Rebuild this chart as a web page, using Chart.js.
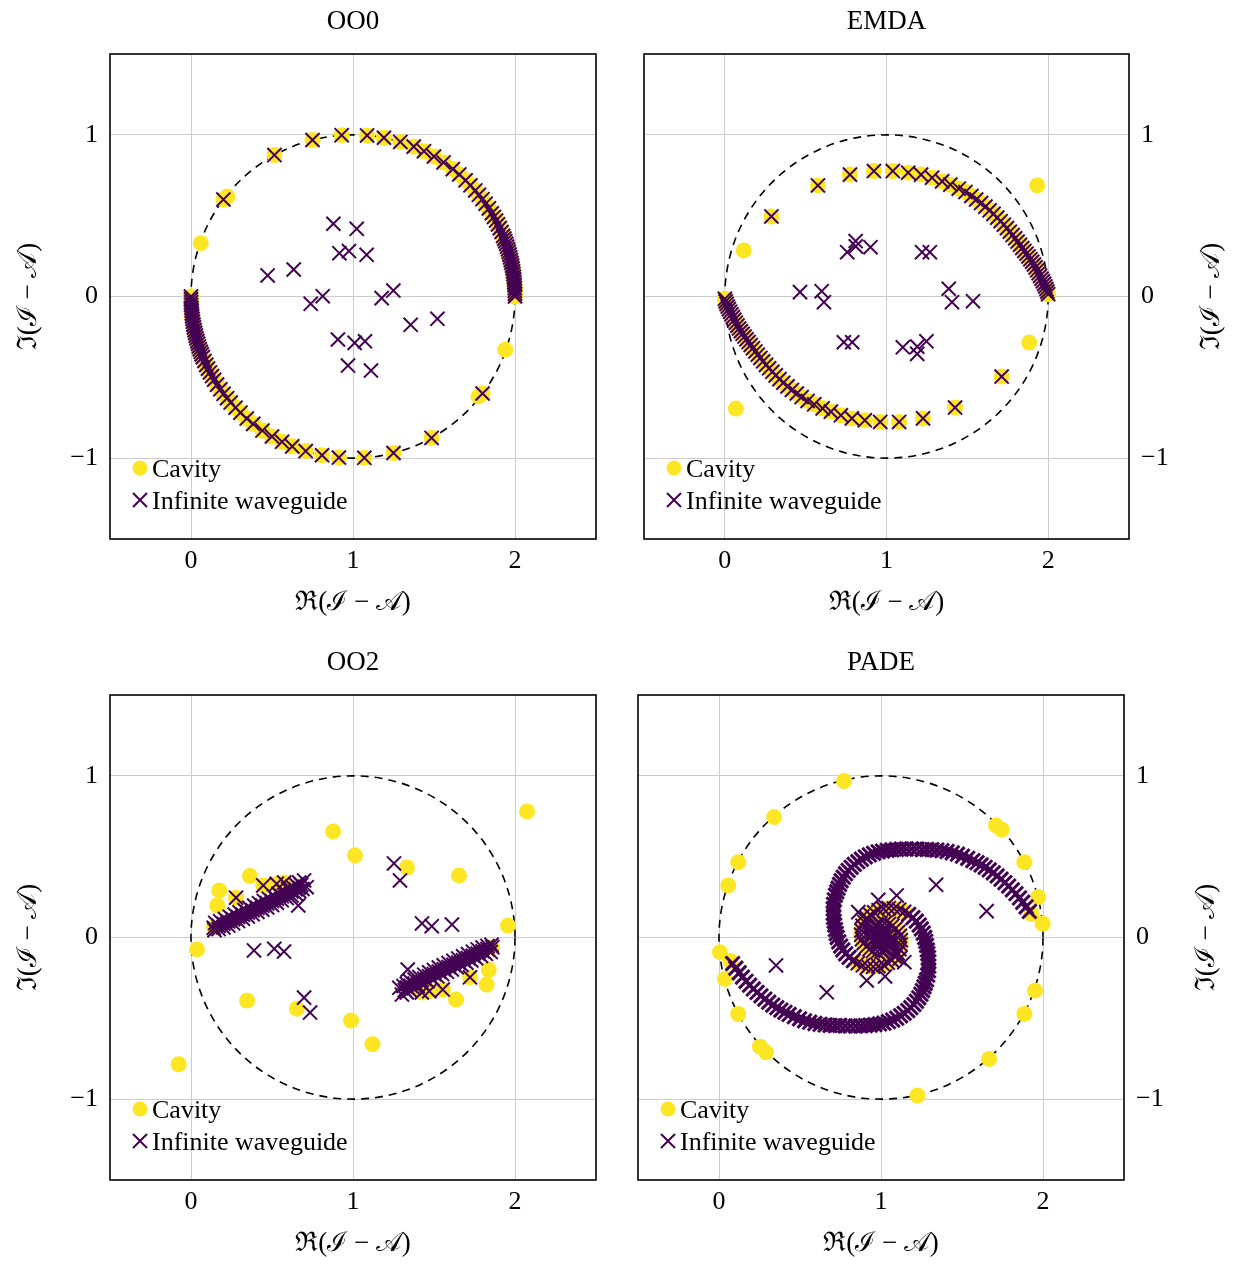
<!DOCTYPE html>
<html>
<head>
<meta charset="utf-8">
<script src="https://cdn.jsdelivr.net/npm/chart.js@4.4.1/dist/chart.umd.min.js"></script>
<style>
  html, body { margin: 0; padding: 0; background: #fff; overflow: hidden; }
  canvas { position: absolute; }
</style>
</head>
<body>
<canvas id="c0"></canvas>
<canvas id="c1"></canvas>
<canvas id="c2"></canvas>
<canvas id="c3"></canvas>
<script>
const panelTitles = ["OO0", "EMDA", "OO2", "PADE"];
const seriesNames = ["Cavity", "Infinite waveguide"];
const xLabel = "ℜ(ℐ − 𝒜)";
const yLabel = "ℑ(ℐ − 𝒜)";
const xTicks = [0, 1, 2];
const yTicks = [-1, 0, 1];
const xRange = [-0.5, 2.5];
const yRange = [-1.5, 1.5];
const circleCenter = [1, 0];
const circleRadius = 1;

const cavityColor = "#fde725";
const guideColor = "#440154";
const gridColor = "#cccccc";

// ---- OO0 ----
const oo0UpperArc = [
  [0.2, 0.6], [0.515, 0.875], [0.75, 0.968], [0.93, 0.998], [1.087, 0.996], [1.191, 0.982],
  [1.292, 0.956], [1.375, 0.927], [1.438, 0.899], [1.5, 0.866], [1.559, 0.829], [1.616, 0.788],
  [1.656, 0.755], [1.695, 0.719], [1.725, 0.688], [1.755, 0.656], [1.777, 0.629], [1.799, 0.602],
  [1.819, 0.574], [1.839, 0.545], [1.857, 0.515], [1.87, 0.492], [1.883, 0.47], [1.895, 0.446],
  [1.906, 0.423], [1.917, 0.399], [1.927, 0.375], [1.934, 0.358], [1.94, 0.342], [1.946, 0.326],
  [1.951, 0.309], [1.956, 0.292], [1.961, 0.276], [1.966, 0.259], [1.97, 0.242], [1.974, 0.225],
  [1.978, 0.208], [1.982, 0.191], [1.985, 0.174], [1.988, 0.156], [1.99, 0.139], [1.993, 0.122],
  [1.995, 0.105], [1.996, 0.087], [1.998, 0.07], [1.999, 0.052], [1.999, 0.035], [2.0, 0.017], [2.0, 0.0],
];
const oo0LowerArc = [
  [1.8, -0.6], [1.485, -0.875], [1.25, -0.968], [1.07, -0.998], [0.913, -0.996], [0.809, -0.982],
  [0.708, -0.956], [0.625, -0.927], [0.562, -0.899], [0.5, -0.866], [0.441, -0.829], [0.384, -0.788],
  [0.344, -0.755], [0.305, -0.719], [0.275, -0.688], [0.245, -0.656], [0.223, -0.629], [0.201, -0.602],
  [0.181, -0.574], [0.161, -0.545], [0.143, -0.515], [0.13, -0.492], [0.117, -0.47], [0.105, -0.446],
  [0.094, -0.423], [0.083, -0.399], [0.073, -0.375], [0.066, -0.358], [0.06, -0.342], [0.054, -0.326],
  [0.049, -0.309], [0.044, -0.292], [0.039, -0.276], [0.034, -0.259], [0.03, -0.242], [0.026, -0.225],
  [0.022, -0.208], [0.018, -0.191], [0.015, -0.174], [0.012, -0.156], [0.01, -0.139], [0.007, -0.122],
  [0.005, -0.105], [0.004, -0.087], [0.002, -0.07], [0.001, -0.052], [0.001, -0.035], [0.0, -0.017], [0.0, 0.0],
];
const oo0CavityOnly = [[0.06, 0.33], [0.225, 0.618], [1.94, -0.33], [1.775, -0.618]];
const oo0Interior = [
  [0.879, 0.45], [1.023, 0.419], [0.916, 0.268], [0.975, 0.281], [1.084, 0.258], [0.473, 0.13],
  [0.634, 0.167], [0.739, -0.045], [0.813, 0.002], [1.177, -0.01], [1.249, 0.037], [1.356, -0.175],
  [1.521, -0.138], [0.907, -0.266], [1.01, -0.287], [1.074, -0.277], [0.969, -0.427], [1.111, -0.458],
];

// ---- EMDA ----
const emdaUpperArc = [
  [0.288, 0.495], [0.576, 0.687], [0.774, 0.754], [0.922, 0.776], [1.039, 0.776], [1.134, 0.766],
  [1.214, 0.754], [1.282, 0.735], [1.344, 0.712], [1.395, 0.692], [1.447, 0.667], [1.488, 0.646],
  [1.525, 0.622], [1.555, 0.6], [1.585, 0.578], [1.612, 0.556], [1.638, 0.533], [1.662, 0.511],
  [1.685, 0.488], [1.706, 0.466], [1.726, 0.444], [1.745, 0.423], [1.763, 0.401], [1.78, 0.38],
  [1.796, 0.36], [1.811, 0.34], [1.826, 0.32], [1.84, 0.3], [1.853, 0.282], [1.866, 0.265],
  [1.878, 0.248], [1.89, 0.231], [1.901, 0.215], [1.912, 0.198], [1.922, 0.18], [1.932, 0.162],
  [1.941, 0.144], [1.95, 0.127], [1.959, 0.11], [1.967, 0.094], [1.975, 0.078], [1.982, 0.062],
  [1.989, 0.046], [1.995, 0.03], [2.0, 0.014],
];
const emdaLowerArc = [
  [1.712, -0.495], [1.424, -0.687], [1.226, -0.754], [1.078, -0.776], [0.961, -0.776], [0.866, -0.766],
  [0.786, -0.754], [0.718, -0.735], [0.656, -0.712], [0.605, -0.692], [0.553, -0.667], [0.512, -0.646],
  [0.475, -0.622], [0.445, -0.6], [0.415, -0.578], [0.388, -0.556], [0.362, -0.533], [0.338, -0.511],
  [0.315, -0.488], [0.294, -0.466], [0.274, -0.444], [0.255, -0.423], [0.237, -0.401], [0.22, -0.38],
  [0.204, -0.36], [0.189, -0.34], [0.174, -0.32], [0.16, -0.3], [0.147, -0.282], [0.134, -0.265],
  [0.122, -0.248], [0.11, -0.231], [0.099, -0.215], [0.088, -0.198], [0.078, -0.18], [0.068, -0.162],
  [0.059, -0.144], [0.05, -0.127], [0.041, -0.11], [0.033, -0.094], [0.025, -0.078], [0.018, -0.062],
  [0.011, -0.046], [0.005, -0.03], [0.0, -0.014],
];
const emdaCavityOnly = [[0.117, 0.285], [1.932, 0.687], [0.068, -0.693], [1.883, -0.285]];
const emdaInterior = [
  [0.757, 0.274], [0.809, 0.343], [0.81, 0.31], [0.901, 0.305], [1.22, 0.274], [1.268, 0.274],
  [0.465, 0.027], [0.599, 0.033], [0.613, -0.035], [1.385, 0.048], [1.405, -0.035], [1.535, -0.029],
  [0.736, -0.283], [0.788, -0.283], [1.101, -0.314], [1.19, -0.31], [1.19, -0.355], [1.247, -0.277],
];

// ---- OO2 ----
const oo2CavityOnly = [
  [2.074, 0.78], [0.877, 0.656], [1.012, 0.508], [1.333, 0.433], [1.654, 0.384], [1.957, 0.074],
  [0.175, 0.291], [0.162, 0.198], [0.364, 0.38], [0.142, 0.064], [0.037, -0.074], [0.346, -0.39],
  [0.654, -0.44], [0.988, -0.514], [1.12, -0.66], [-0.076, -0.784], [1.636, -0.384], [1.825, -0.291],
  [1.838, -0.2], [1.858, -0.064],
];
const oo2Shared = [
  [0.278, 0.246], [0.446, 0.322], [0.529, 0.332], [0.575, 0.34],
  [1.722, -0.246], [1.554, -0.322], [1.471, -0.332], [1.425, -0.34],
];
const oo2Interior = [
  [0.389, -0.08], [0.514, -0.07], [0.574, -0.087], [0.662, 0.198], [0.698, 0.353], [0.714, 0.311],
  [0.698, -0.372], [0.735, -0.464], [1.611, 0.08], [1.486, 0.07], [1.426, 0.087], [1.338, -0.198],
  [1.302, -0.353], [1.286, -0.311], [1.29, 0.353], [1.253, 0.458],
];
const oo2BandLeftA = [
  [0.15, 0.09], [0.18, 0.101], [0.21, 0.114], [0.24, 0.128], [0.27, 0.142], [0.3, 0.156],
  [0.33, 0.17], [0.36, 0.184], [0.39, 0.198], [0.42, 0.212], [0.45, 0.226], [0.48, 0.24],
  [0.51, 0.255], [0.54, 0.27], [0.57, 0.285], [0.6, 0.3], [0.625, 0.313], [0.648, 0.327], [0.668, 0.34],
];
const oo2BandLeftMid = [
  [0.14, 0.06], [0.17, 0.072], [0.2, 0.085], [0.23, 0.099], [0.26, 0.113], [0.29, 0.127],
  [0.32, 0.141], [0.35, 0.155], [0.38, 0.169], [0.41, 0.183], [0.44, 0.197], [0.47, 0.211],
  [0.5, 0.226], [0.53, 0.24], [0.56, 0.255], [0.59, 0.27], [0.62, 0.285], [0.645, 0.298],
  [0.665, 0.31], [0.68, 0.325],
];
const oo2BandLeftB = [
  [0.145, 0.045], [0.17, 0.052], [0.2, 0.062], [0.23, 0.074], [0.26, 0.088], [0.29, 0.102],
  [0.32, 0.116], [0.35, 0.13], [0.38, 0.144], [0.41, 0.158], [0.44, 0.172], [0.47, 0.186],
  [0.5, 0.201], [0.53, 0.215], [0.56, 0.23], [0.59, 0.245], [0.62, 0.26], [0.645, 0.273],
  [0.668, 0.287], [0.688, 0.3],
];
const oo2BandRightA = [
  [1.85, -0.09], [1.82, -0.101], [1.79, -0.114], [1.76, -0.128], [1.73, -0.142], [1.7, -0.156],
  [1.67, -0.17], [1.64, -0.184], [1.61, -0.198], [1.58, -0.212], [1.55, -0.226], [1.52, -0.24],
  [1.49, -0.255], [1.46, -0.27], [1.43, -0.285], [1.4, -0.3], [1.375, -0.313], [1.352, -0.327], [1.332, -0.34],
];
const oo2BandRightMid = [
  [1.86, -0.06], [1.83, -0.072], [1.8, -0.085], [1.77, -0.099], [1.74, -0.113], [1.71, -0.127],
  [1.68, -0.141], [1.65, -0.155], [1.62, -0.169], [1.59, -0.183], [1.56, -0.197], [1.53, -0.211],
  [1.5, -0.226], [1.47, -0.24], [1.44, -0.255], [1.41, -0.27], [1.38, -0.285], [1.355, -0.298],
  [1.335, -0.31], [1.32, -0.325],
];
const oo2BandRightB = [
  [1.855, -0.045], [1.83, -0.052], [1.8, -0.062], [1.77, -0.074], [1.74, -0.088], [1.71, -0.102],
  [1.68, -0.116], [1.65, -0.13], [1.62, -0.144], [1.59, -0.158], [1.56, -0.172], [1.53, -0.186],
  [1.5, -0.201], [1.47, -0.215], [1.44, -0.23], [1.41, -0.245], [1.38, -0.26], [1.355, -0.273],
  [1.332, -0.287], [1.312, -0.3],
];

// ---- PADE ----
const padeCavityOnly = [
  [0.772, 0.968], [0.34, 0.745], [0.119, 0.466], [0.057, 0.322], [0.006, -0.091], [0.037, -0.256],
  [0.119, -0.473], [0.253, -0.675], [0.29, -0.71], [1.224, -0.978], [1.667, -0.751], [1.885, -0.473],
  [1.951, -0.328], [1.998, 0.085], [1.971, 0.25], [1.885, 0.466], [1.71, 0.693], [1.745, 0.667],
  [1.93, 0.145], [0.07, -0.145],
];
const padeInterior = [
  [1.34, 0.326], [1.652, 0.163], [1.097, 0.26], [0.983, 0.233], [0.86, 0.157], [0.885, 0.13],
  [0.352, -0.173], [0.665, -0.339], [0.912, -0.266], [1.025, -0.241], [1.144, -0.153], [1.115, -0.13],
];
const padeArmAOuter = [
  [1.916, 0.161], [1.896, 0.19], [1.875, 0.218], [1.855, 0.245], [1.833, 0.271], [1.811, 0.295],
  [1.788, 0.318], [1.765, 0.34], [1.741, 0.361], [1.717, 0.381], [1.693, 0.4], [1.668, 0.418],
  [1.643, 0.434], [1.618, 0.449], [1.593, 0.463], [1.567, 0.476], [1.535, 0.49], [1.503, 0.503],
  [1.472, 0.515], [1.44, 0.524], [1.408, 0.532], [1.376, 0.537], [1.345, 0.541], [1.314, 0.544],
  [1.283, 0.545], [1.254, 0.544], [1.221, 0.547], [1.189, 0.548], [1.157, 0.548], [1.126, 0.547],
  [1.096, 0.545], [1.067, 0.542], [1.038, 0.539], [1.009, 0.535], [0.982, 0.53], [0.954, 0.521],
  [0.928, 0.511], [0.903, 0.499], [0.879, 0.484], [0.857, 0.469], [0.835, 0.452], [0.816, 0.434],
  [0.797, 0.415], [0.781, 0.395], [0.767, 0.373], [0.754, 0.351], [0.744, 0.328], [0.735, 0.305],
  [0.727, 0.283], [0.719, 0.262], [0.712, 0.233], [0.707, 0.205], [0.705, 0.177], [0.705, 0.15],
  [0.707, 0.124], [0.711, 0.1], [0.714, 0.077], [0.719, 0.049], [0.724, 0.024], [0.73, 0.0],
  [0.739, -0.027], [0.751, -0.053], [0.764, -0.077], [0.782, -0.101], [0.803, -0.123], [0.829, -0.143],
];
const padeArmARing = [
  [0.857, -0.159], [0.888, -0.172], [0.92, -0.179], [0.952, -0.181], [0.984, -0.177], [1.015, -0.169],
  [1.042, -0.156], [1.066, -0.14], [1.087, -0.12], [1.103, -0.096], [1.114, -0.072], [1.121, -0.044],
  [1.122, -0.017], [1.117, 0.01], [1.107, 0.035], [1.091, 0.057], [1.071, 0.073], [1.049, 0.084],
  [1.022, 0.089], [0.997, 0.087],
];
const padeArmACore = [
  [0.972, 0.076], [0.952, 0.057], [0.94, 0.035], [0.938, 0.005], [0.948, -0.019], [0.97, -0.036],
  [0.993, -0.038], [1.015, -0.025], [1.019, -0.007], [1.009, 0.005],
];
const padeArmBOuter = [
  [0.084, -0.161], [0.104, -0.19], [0.125, -0.218], [0.145, -0.245], [0.167, -0.271], [0.189, -0.295],
  [0.212, -0.318], [0.235, -0.34], [0.259, -0.361], [0.283, -0.381], [0.307, -0.4], [0.332, -0.418],
  [0.357, -0.434], [0.382, -0.449], [0.407, -0.463], [0.433, -0.476], [0.465, -0.49], [0.497, -0.503],
  [0.528, -0.515], [0.56, -0.524], [0.592, -0.532], [0.624, -0.537], [0.655, -0.541], [0.686, -0.544],
  [0.717, -0.545], [0.746, -0.544], [0.779, -0.547], [0.811, -0.548], [0.843, -0.548], [0.874, -0.547],
  [0.904, -0.545], [0.933, -0.542], [0.962, -0.539], [0.991, -0.535], [1.018, -0.53], [1.046, -0.521],
  [1.072, -0.511], [1.097, -0.499], [1.121, -0.484], [1.143, -0.469], [1.165, -0.452], [1.184, -0.434],
  [1.203, -0.415], [1.219, -0.395], [1.233, -0.373], [1.246, -0.351], [1.256, -0.328], [1.265, -0.305],
  [1.273, -0.283], [1.281, -0.262], [1.288, -0.233], [1.293, -0.205], [1.295, -0.177], [1.295, -0.15],
  [1.293, -0.124], [1.289, -0.1], [1.286, -0.077], [1.281, -0.049], [1.276, -0.024], [1.27, 0.0],
  [1.261, 0.027], [1.249, 0.053], [1.236, 0.077], [1.218, 0.101], [1.197, 0.123], [1.171, 0.143],
];
const padeArmBRing = [
  [1.143, 0.159], [1.112, 0.172], [1.08, 0.179], [1.048, 0.181], [1.016, 0.177], [0.985, 0.169],
  [0.958, 0.156], [0.934, 0.14], [0.913, 0.12], [0.897, 0.096], [0.886, 0.072], [0.879, 0.044],
  [0.878, 0.017], [0.883, -0.01], [0.893, -0.035], [0.909, -0.057], [0.929, -0.073], [0.951, -0.084],
  [0.978, -0.089], [1.003, -0.087],
];
const padeArmBCore = [
  [1.028, -0.076], [1.048, -0.057], [1.06, -0.035], [1.062, -0.005], [1.052, 0.019], [1.03, 0.036],
  [1.007, 0.038], [0.985, 0.025], [0.981, 0.007], [0.991, -0.005],
];

const panelCavity = [
  [...oo0UpperArc, ...oo0LowerArc, ...oo0CavityOnly],
  [...emdaUpperArc, ...emdaLowerArc, ...emdaCavityOnly],
  [...oo2CavityOnly, ...oo2Shared],
  [...padeArmARing, ...padeArmBRing, ...padeCavityOnly],
];
const panelGuide = [
  [...oo0UpperArc, ...oo0LowerArc, ...oo0Interior],
  [...emdaUpperArc, ...emdaLowerArc, ...emdaInterior],
  [...oo2BandLeftB, ...oo2BandLeftMid, ...oo2BandLeftA, ...oo2BandRightB, ...oo2BandRightMid,
   ...oo2BandRightA, ...oo2Shared, ...oo2Interior],
  [...padeArmARing, ...padeArmBRing, ...padeInterior],
];
// crosses packed along the spiral arms and in its core, drawn with a heavier stroke
const panelGuideDense = [[], [], [], [...padeArmAOuter, ...padeArmBOuter, ...padeArmACore, ...padeArmBCore]];

const panelBoxes = [
  { left: 0, top: 0, width: 618, height: 640, side: "left", padLeft: 0, padRight: 22, axisSize: 110 },
  { left: 618, top: 0, width: 618, height: 640, side: "right", padLeft: 26, padRight: 0, axisSize: 107 },
  { left: 0, top: 641, width: 618, height: 625, side: "left", padLeft: 0, padRight: 22, axisSize: 110 },
  { left: 618, top: 641, width: 618, height: 625, side: "right", padLeft: 20, padRight: 0, axisSize: 112 },
];

Chart.defaults.font.family = "'Liberation Serif', 'DejaVu Serif', serif";
Chart.defaults.color = "#000";

const toPoints = (arr) => arr.map(([x, y]) => ({ x, y }));
const fmtTick = (v) => (v < 0 ? "\u2212" + Math.abs(v) : String(v));

const framePlugin = {
  id: "frame",
  beforeDatasetsDraw(chart) {
    const { ctx, chartArea: a, scales } = chart;
    const cx = scales.x.getPixelForValue(circleCenter[0]);
    const cy = scales.y.getPixelForValue(circleCenter[1]);
    const rx = scales.x.getPixelForValue(circleCenter[0] + circleRadius) - cx;
    const ry = cy - scales.y.getPixelForValue(circleCenter[1] + circleRadius);
    ctx.save();
    ctx.beginPath();
    ctx.rect(a.left, a.top, a.width, a.height);
    ctx.clip();
    ctx.setLineDash([8, 6]);
    ctx.lineWidth = 1.6;
    ctx.strokeStyle = "#000";
    ctx.beginPath();
    ctx.ellipse(cx, cy, rx, ry, 0, 0, Math.PI * 2);
    ctx.stroke();
    ctx.restore();
  },
  afterDatasetsDraw(chart, args, opts) {
    const { ctx, chartArea: a } = chart;
    ctx.save();

    // legend, inside the plot, lower left
    const mx = a.left + 30;
    ctx.fillStyle = cavityColor;
    ctx.beginPath();
    ctx.arc(mx, a.bottom - 71, 7.5, 0, Math.PI * 2);
    ctx.fill();
    ctx.strokeStyle = guideColor;
    ctx.lineWidth = 2;
    const my = a.bottom - 39;
    ctx.beginPath();
    ctx.moveTo(mx - 7, my - 7); ctx.lineTo(mx + 7, my + 7);
    ctx.moveTo(mx - 7, my + 7); ctx.lineTo(mx + 7, my - 7);
    ctx.stroke();
    ctx.fillStyle = "#000";
    ctx.font = "26px 'Liberation Serif', 'DejaVu Serif', serif";
    ctx.textAlign = "left";
    ctx.textBaseline = "alphabetic";
    ctx.fillText(seriesNames[0], a.left + 42, a.bottom - 62);
    ctx.fillText(seriesNames[1], a.left + 42, a.bottom - 30);

    // frame
    ctx.strokeStyle = "#000";
    ctx.lineWidth = 1.6;
    ctx.strokeRect(a.left, a.top, a.width, a.height);

    // y title on the right side reads bottom to top, like the left one
    if (opts.side === "right") {
      ctx.translate(a.right + 83, (a.top + a.bottom) / 2);
      ctx.rotate(-Math.PI / 2);
      ctx.font = "27px 'Liberation Serif', 'DejaVu Serif', serif";
      ctx.textAlign = "center";
      ctx.textBaseline = "middle";
      ctx.fillText(yLabel, 0, 0);
    }
    ctx.restore();
  },
};

function makeChart(i) {
  const p = panelBoxes[i];
  const el = document.getElementById("c" + i);
  el.width = p.width;
  el.height = p.height;
  el.style.left = p.left + "px";
  el.style.top = p.top + "px";
  const xAxisHeight = p.height - 539;

  return new Chart(el, {
    type: "scatter",
    data: {
      datasets: [
        {
          label: seriesNames[0],
          data: toPoints(panelCavity[i]),
          pointStyle: "circle",
          pointRadius: 8,
          backgroundColor: cavityColor,
          borderColor: cavityColor,
          borderWidth: 0,
          order: 3,
        },
        {
          label: seriesNames[1],
          data: toPoints(panelGuideDense[i]),
          pointStyle: "crossRot",
          pointRadius: 10,
          backgroundColor: guideColor,
          borderColor: guideColor,
          borderWidth: 3,
          order: 2,
        },
        {
          label: seriesNames[1],
          data: toPoints(panelGuide[i]),
          pointStyle: "crossRot",
          pointRadius: 10,
          backgroundColor: guideColor,
          borderColor: guideColor,
          borderWidth: 2,
          order: 1,
        },
      ],
    },
    options: {
      responsive: false,
      animation: false,
      events: [],
      layout: { padding: { left: p.padLeft, right: p.padRight, top: 0, bottom: 0 } },
      plugins: {
        legend: { display: false },
        tooltip: { enabled: false },
        title: {
          display: true,
          text: panelTitles[i],
          fullSize: false,
          color: "#000",
          font: { size: 27, weight: "normal" },
          padding: { top: 6, bottom: 15.6 },
        },
        frame: { side: p.side },
      },
      scales: {
        x: {
          type: "linear",
          position: "bottom",
          min: xRange[0],
          max: xRange[1],
          afterBuildTicks: (s) => { s.ticks = xTicks.map((v) => ({ value: v })); },
          afterFit: (s) => { s.height = xAxisHeight; },
          grid: { color: gridColor, lineWidth: 1, drawTicks: false },
          border: { display: false },
          ticks: { padding: 7, maxRotation: 0, minRotation: 0, autoSkip: false, font: { size: 26 }, callback: fmtTick },
          title: {
            display: true,
            text: xLabel,
            font: { size: 27 },
            padding: { top: 0, bottom: p.height - 603 - 16.2 },
          },
        },
        y: {
          type: "linear",
          position: p.side,
          min: yRange[0],
          max: yRange[1],
          afterBuildTicks: (s) => { s.ticks = yTicks.map((v) => ({ value: v })); },
          afterFit: (s) => { s.width = p.axisSize; },
          grid: { color: gridColor, lineWidth: 1, drawTicks: false },
          border: { display: false },
          ticks: { padding: 12, autoSkip: false, font: { size: 26 }, callback: fmtTick },
          title: {
            display: p.side === "left",
            text: yLabel,
            font: { size: 27 },
            padding: { top: 13, bottom: 0 },
          },
        },
      },
    },
    plugins: [framePlugin],
  });
}

const charts = [0, 1, 2, 3].map(makeChart);
</script>
</body>
</html>
